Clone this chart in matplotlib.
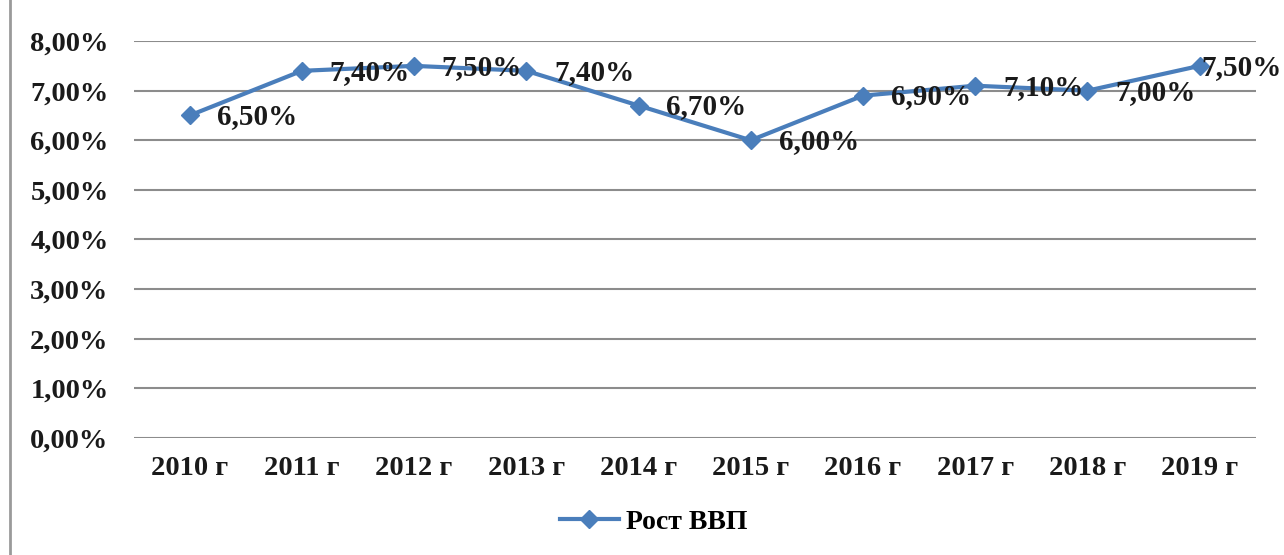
import matplotlib.pyplot as plt
from matplotlib.lines import Line2D

years = ["2010 г", "2011 г", "2012 г", "2013 г", "2014 г",
         "2015 г", "2016 г", "2017 г", "2018 г", "2019 г"]
growth = [6.5, 7.4, 7.5, 7.4, 6.7, 6.0, 6.9, 7.1, 7.0, 7.5]
series_name = "Рост ВВП"

plt.rcParams['font.family'] = ['Liberation Serif', 'DejaVu Serif']
plt.rcParams['font.weight'] = 'bold'

blue = "#4a7ebb"
ink = "#1a1a1a"

fig = plt.figure(figsize=(12.84, 5.55), dpi=100)
ax = fig.add_axes([0.104, 0.211, 0.874, 0.715])

x = range(len(years))
ax.plot(x, growth, color=blue, lw=3, marker="D", markersize=9,
        label=series_name, zorder=3)

# data labels, right of each point (last one squeezed by the edge)
dx = [20, 20, 20, 20, 20, 20, 20, 20, 20, 1.5]
for i, v in enumerate(growth):
    ax.annotate(f"{v:.2f}%".replace(".", ","), (i, v),
                xytext=(dx[i], -1), textcoords="offset points",
                ha="left", va="center", fontsize=21, fontweight="bold",
                color=ink, zorder=4)

ax.set_xlim(-0.5, len(years) - 0.5)
ax.set_ylim(0, 8)
ax.set_yticks(range(0, 9))
ax.set_yticklabels([f"{t},00%" for t in range(0, 9)])
ax.set_xticks(list(x))
ax.set_xticklabels(years)
ax.tick_params(axis="both", length=0, labelsize=20.5, colors=ink)
ax.tick_params(axis="y", pad=18)
ax.tick_params(axis="x", pad=13)
for lbl in ax.get_xticklabels() + ax.get_yticklabels():
    lbl.set_fontweight("bold")

ax.grid(axis="y", color="#8c8c8c", lw=1.5)
ax.set_axisbelow(True)
for s in ax.spines.values():
    s.set_visible(False)

fig.legend(loc="center", bbox_to_anchor=(0.509, 0.059), frameon=False,
           handlelength=2.15, handletextpad=0.25,
           prop={"weight": "bold", "size": 20})

# thin gray frame edge at the left
fig.add_artist(Line2D([0.008, 0.008], [0.0, 1.0], color="#9a9a9a", lw=2,
                      transform=fig.transFigure))

fig.savefig("out.png", dpi=100, facecolor="white")
